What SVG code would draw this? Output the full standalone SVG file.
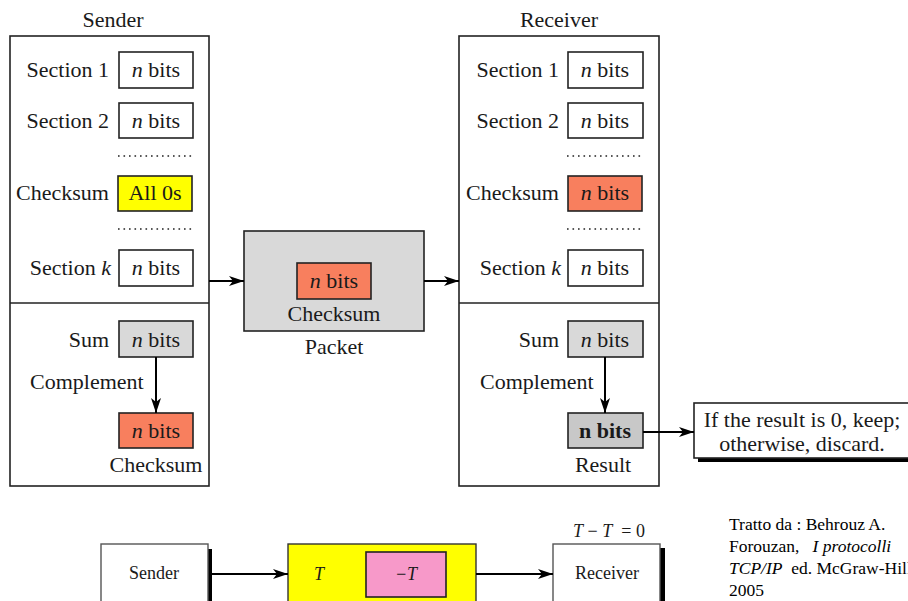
<svg xmlns="http://www.w3.org/2000/svg" width="908" height="601" viewBox="0 0 908 601">
<defs>
<marker id="arr" markerUnits="userSpaceOnUse" markerWidth="16" markerHeight="12" viewBox="0 0 16 12" refX="15" refY="6" orient="auto">
<path d="M0,1 L15,6 L0,11 L4,6 z" fill="#000"/>
</marker>
<style>
text{font-family:"Liberation Serif","Times New Roman",serif;fill:#1a1a1a}
.t{font-size:22px}
.e{text-anchor:end}
.m{text-anchor:middle}
.i{font-style:italic}
.b{font-weight:bold}
.box{stroke:#222;stroke-width:1.6}
.outer{fill:none;stroke:#222;stroke-width:1.6}
.w{fill:#fff}
.y{fill:#ffff00}
.c{fill:#f87f5e}
.g{fill:#d9d9d9}
.g2{fill:#c8c8c8}
.dots{stroke:#222;stroke-width:1.6;stroke-dasharray:1.6 3.9}
.ln{stroke:#000;stroke-width:2;fill:none}
.s{font-size:18px}
.cit{font-size:17.5px;fill:#000}
</style>
</defs>

<g id="sender">
<text class="t m" x="113" y="27">Sender</text>
<rect class="outer" x="10" y="36" width="199" height="450"/>
<line x1="10" y1="303" x2="209" y2="303" stroke="#222" stroke-width="1.6"/>
<text class="t e" x="109" y="77">Section 1</text>
<rect class="box w" x="119" y="52" width="74" height="36"/>
<text class="t m" x="156" y="77"><tspan class="i">n</tspan> bits</text>
<text class="t e" x="109" y="128">Section 2</text>
<rect class="box w" x="119" y="103" width="74" height="35"/>
<text class="t m" x="156" y="128"><tspan class="i">n</tspan> bits</text>
<line class="dots" x1="118" y1="156" x2="194" y2="156"/>
<text class="t e" x="109" y="200">Checksum</text>
<rect class="box y" x="118" y="176" width="74" height="35"/>
<text class="t m" x="155" y="200">All 0s</text>
<line class="dots" x1="118" y1="229" x2="194" y2="229"/>
<text class="t e" x="111" y="275">Section <tspan class="i">k</tspan></text>
<rect class="box w" x="119" y="250" width="74" height="36"/>
<text class="t m" x="156" y="275"><tspan class="i">n</tspan> bits</text>
<text class="t e" x="109" y="347">Sum</text>
<rect class="box g" x="119" y="321" width="74" height="36"/>
<text class="t m" x="156" y="347"><tspan class="i">n</tspan> bits</text>
<text class="t" x="30" y="389">Complement</text>
<rect class="box c" x="119" y="413" width="74" height="35"/>
<text class="t m" x="156" y="438"><tspan class="i">n</tspan> bits</text>
<text class="t m" x="156" y="472">Checksum</text>
</g>

<g id="packet">
<rect class="box g" x="244" y="231" width="180" height="100"/>
<rect class="box c" x="297" y="263" width="74" height="36"/>
<text class="t m" x="334" y="288"><tspan class="i">n</tspan> bits</text>
<text class="t m" x="334" y="321">Checksum</text>
<text class="t m" x="334" y="354">Packet</text>
</g>

<g id="receiver">
<text class="t m" x="559" y="27">Receiver</text>
<rect class="outer" x="459" y="36" width="200" height="450"/>
<line x1="459" y1="303" x2="659" y2="303" stroke="#222" stroke-width="1.6"/>
<text class="t e" x="559" y="77">Section 1</text>
<rect class="box w" x="568" y="52" width="75" height="36"/>
<text class="t m" x="605" y="77"><tspan class="i">n</tspan> bits</text>
<text class="t e" x="559" y="128">Section 2</text>
<rect class="box w" x="568" y="103" width="75" height="35"/>
<text class="t m" x="605" y="128"><tspan class="i">n</tspan> bits</text>
<line class="dots" x1="567" y1="156" x2="643" y2="156"/>
<text class="t e" x="559" y="200">Checksum</text>
<rect class="box c" x="568" y="176" width="74" height="35"/>
<text class="t m" x="605" y="200"><tspan class="i">n</tspan> bits</text>
<line class="dots" x1="567" y1="229" x2="643" y2="229"/>
<text class="t e" x="561" y="275">Section <tspan class="i">k</tspan></text>
<rect class="box w" x="568" y="250" width="75" height="36"/>
<text class="t m" x="605" y="275"><tspan class="i">n</tspan> bits</text>
<text class="t e" x="559" y="347">Sum</text>
<rect class="box g" x="568" y="321" width="75" height="36"/>
<text class="t m" x="605" y="347"><tspan class="i">n</tspan> bits</text>
<text class="t" x="480" y="389">Complement</text>
<rect class="box g2" x="568" y="413" width="75" height="35"/>
<text class="t m b" x="605" y="438">n bits</text>
<text class="t m" x="603" y="472">Result</text>
</g>

<g id="decision">
<rect x="698" y="407" width="220" height="55" fill="#000"/>
<rect class="box w" x="694" y="403" width="220" height="55"/>
<text class="t m" x="802" y="427">If the result is 0, keep;</text>
<text class="t m" x="802" y="451">otherwise, discard.</text>
</g>

<g id="sender2">
<rect x="207" y="549" width="5" height="60" fill="#000"/>
<rect x="101" y="544" width="107" height="70" fill="#fff" stroke="#555" stroke-width="1.4"/>
<text class="s m" x="154" y="579">Sender</text>
</g>

<g id="packet2">
<rect x="288" y="544" width="188" height="70" fill="#ffff00" stroke="#333" stroke-width="1.4"/>
<text class="s i m" x="319" y="580">T</text>
<rect x="366" y="552" width="80" height="45" fill="#f799c9" stroke="#222" stroke-width="1.6"/>
<text class="s i m" x="406" y="580">−T</text>
</g>

<g id="receiver2">
<text class="s m" x="609" y="537" xml:space="preserve"><tspan class="i">T</tspan> − <tspan class="i">T</tspan>  = 0</text>
<rect x="660" y="548" width="5" height="60" fill="#000"/>
<rect x="553" y="544" width="107" height="70" fill="#fff" stroke="#555" stroke-width="1.4"/>
<text class="s m" x="607" y="579">Receiver</text>
</g>

<g id="citation">
<text class="cit" x="729" y="530">Tratto da : Behrouz A.</text>
<text class="cit" x="729" y="552" xml:space="preserve">Forouzan,   <tspan class="i">I protocolli</tspan></text>
<text class="cit" x="729" y="574" xml:space="preserve"><tspan class="i">TCP/IP</tspan>  ed. McGraw-Hill</text>
<text class="cit" x="729" y="596">2005</text>
</g>

<g id="connectors">
<line class="ln" x1="209" y1="281" x2="244" y2="281" marker-end="url(#arr)"/>
<line class="ln" x1="424" y1="281" x2="459" y2="281" marker-end="url(#arr)"/>
<line class="ln" x1="156" y1="357" x2="156" y2="413" marker-end="url(#arr)"/>
<line class="ln" x1="605" y1="357" x2="605" y2="413" marker-end="url(#arr)"/>
<line class="ln" x1="643" y1="432" x2="694" y2="432" marker-end="url(#arr)"/>
<line class="ln" x1="212" y1="574" x2="288" y2="574" marker-end="url(#arr)"/>
<line class="ln" x1="476" y1="574" x2="553" y2="574" marker-end="url(#arr)"/>
</g>
</svg>
